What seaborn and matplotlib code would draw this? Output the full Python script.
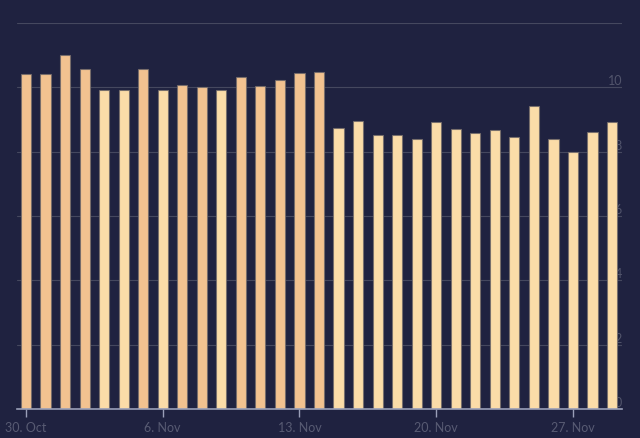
# Grafico de barras diario (30 Oct - 29 Nov)

import matplotlib
matplotlib.use("Agg")
import matplotlib.pyplot as plt
import seaborn as sns
import pandas as pd

# Datos

fechas = pd.date_range("2023-10-30", "2023-11-29", freq="D")
valores = [10.43, 10.43, 11.0, 10.57, 9.92, 9.92, 10.57, 9.92, 10.08, 10.0,
           9.92, 10.31, 10.05, 10.23, 10.46, 10.48, 8.74, 8.95, 8.52, 8.52,
           8.40, 8.92, 8.71, 8.57, 8.68, 8.46, 9.43, 8.40, 8.0, 8.6, 8.92]
etiquetas_x = ["30. Oct", "6. Nov", "13. Nov", "20. Nov", "27. Nov"]
ticks_y = [0, 2, 4, 6, 8, 10, 12]
umbral = 10

fondo = "#1f2240"
naranja = "#f2c290"
claro = "#fbdca8"

datos = pd.DataFrame({"fecha": fechas.strftime("%d.%m"), "valor": valores})
datos["grupo"] = ["alto" if v >= umbral else "bajo" for v in valores]

sns.set_theme(style="dark")
plt.rcParams["font.family"] = ["Lato", "DejaVu Sans"]

fig = plt.figure(figsize=(6.4, 4.38), dpi=100, facecolor=fondo)
ax = fig.add_axes([17 / 640, 1 - 409 / 438, 605 / 640, (409 - 23) / 438])
ax.set_facecolor(fondo)

sns.barplot(data=datos, x="fecha", y="valor", hue="grupo",
            palette={"alto": naranja, "bajo": claro}, dodge=False,
            saturation=1, width=0.52, edgecolor=(0.45, 0.42, 0.42, 0.8),
            linewidth=0.8, legend=False, ax=ax, zorder=3)

ax.set_xlim(-0.46, 30.51)
ax.set_ylim(0, 12)
ax.set_xlabel("")
ax.set_ylabel("")

# Eje x
ax.set_xticks([0, 7, 14, 21, 28])
ax.set_xticklabels(etiquetas_x)
ax.tick_params(axis="x", colors="#9a9fb8", length=6, width=1, pad=3,
               labelcolor="#585b73", labelsize=9, bottom=True)

# Eje y a la derecha, dentro del area
ax.yaxis.tick_right()
ax.set_yticks(ticks_y)
ax.set_yticklabels([str(t) if t < 12 else "" for t in ticks_y])
ax.tick_params(axis="y", length=0, pad=0, labelcolor="#52556c", labelsize=9)
for lbl in ax.get_yticklabels():
    lbl.set_horizontalalignment("right")
    lbl.set_verticalalignment("bottom")

ax.grid(True, axis="y", color="#45485f", linewidth=0.8, zorder=0)
ax.grid(False, axis="x")

for lado in ["top", "left", "right"]:
    ax.spines[lado].set_visible(False)
ax.spines["bottom"].set_color("#9a9fb8")
ax.spines["bottom"].set_linewidth(1.2)
ax.spines["bottom"].set_zorder(4)

fig.savefig("out.png", dpi=100, facecolor=fondo)
